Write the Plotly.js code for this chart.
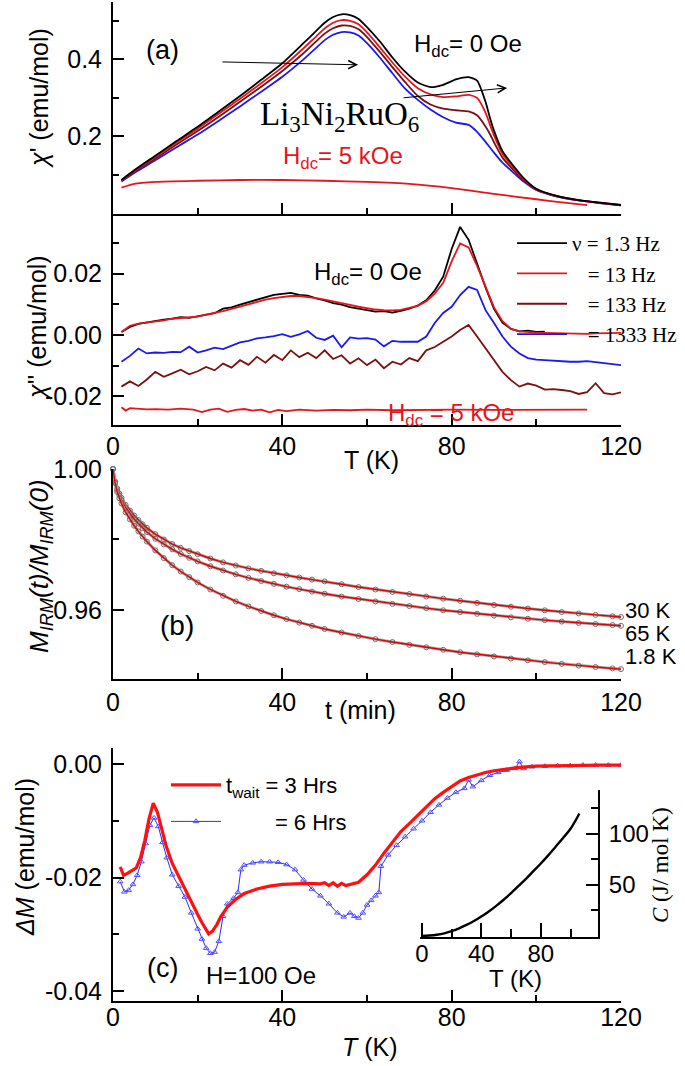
<!DOCTYPE html>
<html>
<head>
<meta charset="utf-8">
<script src="https://cdn.plot.ly/plotly-3.0.1.min.js"></script>
<style>
  body { margin: 0; background: #fff; }
  #chart { width: 685px; height: 1066px; }
</style>
</head>
<body>
<div id="chart"></div>
<script>
// (a) top: chi' vs T, H_dc = 0 Oe, four frequencies
const tChi1 = [2, 5, 10, 15, 20, 25, 30, 35, 40, 45, 48, 50, 52, 54, 56, 58, 60, 63, 66, 69, 72, 75, 78, 81, 84, 86, 88, 89, 90, 92, 95, 97, 100, 105, 110, 115, 120]
const chi1_13 = [0.087, 0.112, 0.150, 0.188, 0.225, 0.265, 0.305, 0.347, 0.390, 0.442, 0.474, 0.495, 0.510, 0.517, 0.515, 0.505, 0.484, 0.447, 0.405, 0.368, 0.340, 0.328, 0.334, 0.348, 0.354, 0.345, 0.290, 0.250, 0.215, 0.162, 0.118, 0.092, 0.064, 0.045, 0.035, 0.028, 0.022]
const chi1_13Hz = [0.086, 0.110, 0.147, 0.184, 0.220, 0.259, 0.298, 0.338, 0.380, 0.429, 0.460, 0.480, 0.495, 0.502, 0.500, 0.491, 0.470, 0.432, 0.392, 0.355, 0.325, 0.309, 0.302, 0.304, 0.308, 0.300, 0.262, 0.232, 0.203, 0.155, 0.113, 0.089, 0.063, 0.045, 0.035, 0.028, 0.022]
const chi1_133Hz = [0.085, 0.108, 0.143, 0.179, 0.214, 0.251, 0.290, 0.329, 0.370, 0.416, 0.447, 0.467, 0.481, 0.488, 0.487, 0.478, 0.458, 0.420, 0.380, 0.341, 0.305, 0.283, 0.272, 0.268, 0.265, 0.255, 0.226, 0.207, 0.185, 0.145, 0.108, 0.086, 0.062, 0.044, 0.034, 0.027, 0.021]
const chi1_1333Hz = [0.083, 0.105, 0.138, 0.172, 0.205, 0.241, 0.278, 0.316, 0.355, 0.400, 0.430, 0.450, 0.464, 0.471, 0.470, 0.462, 0.442, 0.405, 0.364, 0.324, 0.295, 0.270, 0.250, 0.236, 0.230, 0.212, 0.186, 0.172, 0.158, 0.132, 0.102, 0.083, 0.061, 0.044, 0.034, 0.027, 0.021]
// (a) top: H_dc = 5 kOe
const tField1 = [2, 5, 10, 20, 30, 40, 50, 60, 70, 80, 90, 100, 106, 112]
const chi1Field = [0.067, 0.077, 0.082, 0.085, 0.087, 0.087, 0.085, 0.082, 0.077, 0.066, 0.051, 0.037, 0.029, 0.022]

// (a) bottom: chi'' vs T
const tChi2Black = [2, 4, 6, 8, 10, 12, 14, 16, 18, 20, 22, 24, 26, 28, 30, 32, 34, 36, 38, 40, 42, 44, 46, 48, 50, 52, 54, 56, 58, 60, 62, 64, 66, 68, 70, 72, 74, 76, 78, 80, 82, 84, 86, 88, 90, 92, 94, 96, 98, 100, 102]
const chi2_1_3Hz = [0.0010, 0.0026, 0.0036, 0.0041, 0.0044, 0.0050, 0.0053, 0.0058, 0.0056, 0.0061, 0.0068, 0.0071, 0.0086, 0.0090, 0.0099, 0.0107, 0.0117, 0.0124, 0.0131, 0.0134, 0.0137, 0.0131, 0.0128, 0.0119, 0.0113, 0.0104, 0.0099, 0.0091, 0.0086, 0.0080, 0.0076, 0.0078, 0.0073, 0.0079, 0.0086, 0.0096, 0.0113, 0.0145, 0.0190, 0.0280, 0.0352, 0.0310, 0.0232, 0.0155, 0.0085, 0.0040, 0.0020, 0.0012, 0.0014, 0.0010, 0.0011]
const tChi2 = [2, 4, 6, 8, 10, 12, 14, 16, 18, 20, 22, 24, 26, 28, 30, 32, 34, 36, 38, 40, 42, 44, 46, 48, 50, 52, 54, 56, 58, 60, 62, 64, 66, 68, 70, 72, 74, 76, 78, 80, 82, 84, 86, 88, 90, 92, 94, 96, 98, 100, 102, 104, 106, 108, 110, 112, 114, 116, 118, 120]
const chi2_13Hz = [0.0010, 0.0030, 0.0037, 0.0040, 0.0045, 0.0048, 0.0053, 0.0055, 0.0058, 0.0060, 0.0066, 0.0071, 0.0078, 0.0085, 0.0093, 0.0101, 0.0108, 0.0115, 0.0120, 0.0124, 0.0127, 0.0127, 0.0124, 0.0120, 0.0115, 0.0110, 0.0104, 0.0098, 0.0092, 0.0087, 0.0083, 0.0081, 0.0080, 0.0082, 0.0088, 0.0095, 0.0110, 0.0135, 0.0170, 0.0240, 0.0298, 0.0285, 0.0225, 0.0155, 0.0090, 0.0045, 0.0020, 0.0012, 0.0009, 0.0008, 0.0007, 0.0006, 0.0006, 0.0005, 0.0005, 0.0004, 0.0005, 0.0005, 0.0006, 0.0007]
const chi2_133Hz = [-0.0168, -0.0151, -0.0166, -0.0145, -0.0120, -0.0136, -0.0125, -0.0113, -0.0128, -0.0118, -0.0104, -0.0115, -0.0093, -0.0106, -0.0082, -0.0097, -0.0071, -0.0090, -0.0065, -0.0082, -0.0050, -0.0072, -0.0058, -0.0075, -0.0050, -0.0078, -0.0066, -0.0093, -0.0076, -0.0098, -0.0080, -0.0108, -0.0087, -0.0096, -0.0075, -0.0085, -0.0050, -0.0039, -0.0022, -0.0005, 0.0016, 0.0033, -0.0005, -0.0043, -0.0082, -0.0120, -0.0147, -0.0168, -0.0158, -0.0165, -0.0178, -0.0176, -0.0179, -0.0183, -0.0192, -0.0186, -0.0157, -0.0189, -0.0193, -0.0187]
const chi2_1333Hz = [-0.0087, -0.0068, -0.0044, -0.0060, -0.0057, -0.0058, -0.0055, -0.0056, -0.0038, -0.0057, -0.0050, -0.0041, -0.0046, -0.0035, -0.0024, -0.0019, -0.0011, -0.0008, -0.0004, 0.0003, -0.0006, 0.0002, 0.0013, -0.0009, -0.0016, -0.0002, -0.0040, -0.0008, -0.0012, -0.0010, -0.0015, -0.0037, -0.0019, -0.0022, -0.0021, -0.0022, -0.0005, 0.0039, 0.0072, 0.0092, 0.0130, 0.0157, 0.0147, 0.0081, 0.0039, -0.0005, -0.0038, -0.0060, -0.0075, -0.0080, -0.0082, -0.0084, -0.0086, -0.0087, -0.0087, -0.0085, -0.0088, -0.0092, -0.0095, -0.0098]
const tField2 = [2, 3, 4, 6, 8, 10, 13, 16, 19, 21, 23, 25, 27, 29, 31, 33, 35, 37, 39, 41, 44, 48, 52, 56, 60, 66, 72, 80, 90, 100, 112]
const chi2Field = [-0.0235, -0.0246, -0.0238, -0.0240, -0.0242, -0.0241, -0.0243, -0.0240, -0.0243, -0.0251, -0.0243, -0.0240, -0.0250, -0.0244, -0.0241, -0.0246, -0.0243, -0.0252, -0.0244, -0.0248, -0.0243, -0.0246, -0.0244, -0.0245, -0.0243, -0.0245, -0.0244, -0.0243, -0.0244, -0.0244, -0.0243]

// (b) IRM relaxation
const tMin = [0, 0.5, 1, 1.5, 2, 3, 4, 5, 6, 7, 8, 10, 12, 14, 16, 18, 20, 23, 26, 29, 32, 35, 38, 41, 44, 47, 50, 54, 58, 62, 66, 70, 74, 78, 82, 86, 90, 94, 98, 102, 106, 110, 114, 118, 120]
const irm30K = [1.0000, 0.9965, 0.9945, 0.9930, 0.9918, 0.9898, 0.9882, 0.9868, 0.9855, 0.9843, 0.9833, 0.9815, 0.9800, 0.9787, 0.9776, 0.9767, 0.9758, 0.9746, 0.9735, 0.9726, 0.9718, 0.9711, 0.9704, 0.9698, 0.9692, 0.9686, 0.9681, 0.9673, 0.9665, 0.9658, 0.9651, 0.9645, 0.9638, 0.9632, 0.9626, 0.9620, 0.9614, 0.9609, 0.9604, 0.9599, 0.9594, 0.9590, 0.9586, 0.9582, 0.9580]
const irm65K = [1.0000, 0.9963, 0.9940, 0.9925, 0.9912, 0.9890, 0.9873, 0.9858, 0.9845, 0.9832, 0.9821, 0.9802, 0.9786, 0.9772, 0.9759, 0.9748, 0.9738, 0.9724, 0.9712, 0.9701, 0.9691, 0.9682, 0.9674, 0.9666, 0.9659, 0.9652, 0.9646, 0.9638, 0.9631, 0.9624, 0.9617, 0.9611, 0.9605, 0.9599, 0.9594, 0.9589, 0.9584, 0.9579, 0.9575, 0.9571, 0.9567, 0.9563, 0.9560, 0.9557, 0.9555]
const irm1_8K = [1.0000, 0.9960, 0.9935, 0.9917, 0.9902, 0.9877, 0.9857, 0.9839, 0.9823, 0.9808, 0.9794, 0.9769, 0.9747, 0.9727, 0.9709, 0.9693, 0.9678, 0.9658, 0.9640, 0.9624, 0.9610, 0.9597, 0.9585, 0.9574, 0.9564, 0.9555, 0.9546, 0.9536, 0.9526, 0.9517, 0.9509, 0.9501, 0.9494, 0.9487, 0.9480, 0.9474, 0.9468, 0.9462, 0.9457, 0.9452, 0.9447, 0.9442, 0.9438, 0.9434, 0.9432]

// (c) memory effect, Delta M vs T
const tWait3 = [1.7, 2.5, 3.5, 4.5, 5.5, 6.5, 7.5, 8.5, 9.5, 10.5, 11.5, 12.5, 14, 15.5, 17, 18.5, 20, 21, 22, 22.6, 23.5, 24.5, 25.5, 27, 29, 31, 34, 37, 40, 43, 46, 49, 50, 51, 52, 53, 54, 55, 56, 58, 60, 62, 64, 66, 68, 70, 72, 74, 76, 78, 80, 82, 84, 86, 88, 90, 93, 96, 100, 105, 110, 115, 120]
const dM3h = [-0.0181, -0.0196, -0.0192, -0.0187, -0.0183, -0.0165, -0.0135, -0.0097, -0.0069, -0.0085, -0.0115, -0.0143, -0.0175, -0.0198, -0.0222, -0.0245, -0.0265, -0.0279, -0.0290, -0.0299, -0.0294, -0.0283, -0.0268, -0.0252, -0.0238, -0.0228, -0.0220, -0.0215, -0.0212, -0.0211, -0.0210, -0.0211, -0.0209, -0.0214, -0.0209, -0.0215, -0.0210, -0.0214, -0.0212, -0.0208, -0.0195, -0.0178, -0.0157, -0.0138, -0.0119, -0.0105, -0.0090, -0.0075, -0.0061, -0.0050, -0.0040, -0.0030, -0.0024, -0.0019, -0.0015, -0.0012, -0.0009, -0.0006, -0.0004, -0.0003, -0.0002, -0.0002, -0.0002]
const tWait6 = [1.7, 2.7, 3.7, 4.7, 5.7, 6.7, 7.7, 8.7, 9.7, 10.7, 11.7, 12.7, 14, 15.5, 17, 18.5, 20, 21, 22, 23, 24, 25, 26, 27, 28.5, 29.5, 30.2, 31, 33, 35, 37, 39, 41, 43, 45, 47, 49, 51, 53, 54.5, 56, 57, 58, 59, 60, 61, 62, 62.8, 63.3, 65, 67, 69, 71, 73, 75, 77, 79, 81, 83, 84, 85, 87, 89, 91, 93, 95, 96, 97, 99, 102, 105, 108, 111, 114, 117, 120]
const dM6h = [-0.0207, -0.0225, -0.0222, -0.0212, -0.0196, -0.0172, -0.0140, -0.0108, -0.0095, -0.0110, -0.0138, -0.0165, -0.0195, -0.0215, -0.0234, -0.0262, -0.0290, -0.0308, -0.0324, -0.0333, -0.0331, -0.0312, -0.0268, -0.0246, -0.0236, -0.0226, -0.0186, -0.0178, -0.0174, -0.0172, -0.0172, -0.0173, -0.0177, -0.0186, -0.0204, -0.0220, -0.0232, -0.0246, -0.0262, -0.0269, -0.0262, -0.0268, -0.0271, -0.0262, -0.0248, -0.0240, -0.0232, -0.0226, -0.0180, -0.0160, -0.0143, -0.0128, -0.0114, -0.0100, -0.0085, -0.0072, -0.0060, -0.0050, -0.0043, -0.0028, -0.0040, -0.0029, -0.0020, -0.0015, -0.0011, -0.0008, 0.0004, -0.0008, -0.0005, -0.0004, -0.0003, -0.0003, -0.0002, -0.0002, -0.0002, -0.0002]

// (c) inset: heat capacity
const tHeat = [0, 5, 10, 15, 20, 25, 30, 35, 40, 45, 50, 55, 60, 65, 70, 75, 80, 85, 90, 95, 100, 106]
const heatC = [0, 0.4, 1.2, 2.6, 4.8, 7.5, 10.8, 14.6, 19, 24, 29.5, 35.5, 42, 49, 56, 63.5, 71, 79, 87.5, 96, 105, 120]

const W = 685, H = 1066
const px = x => x / W
const py = y => 1 - y / H
const XD = [px(113), px(621)]

const BLACK = '#000000', RED = '#e8141b', DARKRED = '#7a1010', BLUE = '#1a1af0'
const SANS = 'Liberation Sans', SERIF = 'Liberation Serif'

function ax(o) {
  var base = {
    showline: true, linecolor: '#000', linewidth: 2,
    ticks: 'inside', ticklen: 11, tickwidth: 2, tickcolor: '#000',
    showgrid: false, zeroline: false, fixedrange: true,
    tickfont: {family: SANS, size: 25, color: '#000'}
  }
  return Object.assign(base, o)
}
function minor(t0, dt, len) {
  return {tickmode: 'linear', tick0: t0, dtick: dt, ticks: 'inside', ticklen: len || 6, tickwidth: 2, tickcolor: '#000'}
}
const xTicks = {tickvals: [0, 40, 80, 120], ticktext: ['0', '40', '80', '120'], range: [0, 120], domain: XD, minor: minor(20, 40)}

function line(x, y, color, xa, ya, extra) {
  return Object.assign({x: x, y: y, type: 'scatter', mode: 'lines', xaxis: xa, yaxis: ya,
    line: {color: color, width: 1.8}, showlegend: false, hoverinfo: 'skip'}, extra || {})
}

var data = [
  // (a) chi'
  line(tChi1, chi1_1333Hz, BLUE, 'x', 'y', {line: {color: BLUE, width: 1.8, shape: 'spline', smoothing: 0.6}}),
  line(tChi1, chi1_133Hz, DARKRED, 'x', 'y', {line: {color: DARKRED, width: 1.8, shape: 'spline', smoothing: 0.6}}),
  line(tChi1, chi1_13Hz, RED, 'x', 'y', {line: {color: RED, width: 1.8, shape: 'spline', smoothing: 0.6}}),
  line(tChi1, chi1_13, BLACK, 'x', 'y', {line: {color: BLACK, width: 1.8, shape: 'spline', smoothing: 0.6}}),
  line(tField1, chi1Field, RED, 'x', 'y', {line: {color: RED, width: 1.8, shape: 'spline', smoothing: 0.6}}),
  // (a) chi''
  line(tChi2Black, chi2_1_3Hz, BLACK, 'x2', 'y2', {name: '\u03bd = 1.3 Hz', showlegend: true, legendrank: 1}),
  line(tChi2, chi2_13Hz, RED, 'x2', 'y2', {name: '\u00a0\u00a0\u00a0= 13 Hz', showlegend: true, legendrank: 2}),
  line(tChi2, chi2_133Hz, DARKRED, 'x2', 'y2', {name: '\u00a0\u00a0\u00a0= 133 Hz', showlegend: true, legendrank: 3}),
  line(tChi2, chi2_1333Hz, BLUE, 'x2', 'y2', {name: '\u00a0\u00a0\u00a0= 1333 Hz', showlegend: true, legendrank: 4}),
  line(tField2, chi2Field, RED, 'x2', 'y2'),
]

// (b) data points (grey circles) with red fits
var irmSets = [irm30K, irm65K, irm1_8K]
irmSets.forEach(function (m) {
  data.push(line(tMin, m, '#9a9a9a', 'x3', 'y3', {mode: 'lines+markers', cliponaxis: false,
    line: {color: '#a8a8a8', width: 3},
    marker: {symbol: 'circle-open', size: 5, color: '#707070', line: {width: 1}}}))
  data.push(line(tMin, m, '#e00000', 'x3', 'y3', {cliponaxis: false, line: {color: '#e00000', width: 1.4}}))
})

// (c)
data.push(line(tWait6, dM6h, '#2b2bff', 'x4', 'y4', {mode: 'lines+markers', name: '\u00a0\u00a0\u00a0\u00a0\u00a0\u00a0\u00a0\u00a0= 6 Hrs',
  showlegend: true, legend: 'legend2', legendgroup: 'g6', legendrank: 2,
  line: {color: '#2b2bff', width: 1},
  marker: {symbol: 'triangle-up-open', size: 5, color: '#5050ff', line: {width: 1}}}))
data.push(line(tWait3, dM3h, '#ff1010', 'x4', 'y4', {name: 't<sub>wait</sub> = 3 Hrs',
  showlegend: true, legend: 'legend2', legendgroup: 'g3', legendrank: 1,
  line: {color: '#ff1010', width: 3.2}}))
// inset
data.push(line(tHeat, heatC, BLACK, 'x5', 'y5', {line: {color: BLACK, width: 2.4, shape: 'spline'}}))

function note(text, x, y, o) {
  return Object.assign({text: text, x: px(x), y: py(y), xref: 'paper', yref: 'paper', showarrow: false,
    xanchor: 'center', yanchor: 'middle', font: {family: SANS, size: 24, color: '#000'}}, o || {})
}
function arrow(x0, y0, x1, y1) {
  return {x: x1, y: y1, ax: x0, ay: y0, xref: 'x', yref: 'y', axref: 'x', ayref: 'y', text: '',
    showarrow: true, arrowhead: 5, arrowsize: 1.6, arrowwidth: 1, arrowcolor: '#000'}
}

var annotations = [
  note('(a)', 162, 50, {font: {family: SANS, size: 27, color: '#000'}}),
  note('H<sub>dc</sub>= 0 Oe', 468, 46),
  note('Li<sub>3</sub>Ni<sub>2</sub>RuO<sub>6</sub>', 339, 117, {font: {family: SERIF, size: 33, color: '#000'}}),
  note('H<sub>dc</sub>= 5 kOe', 343, 157, {font: {family: SANS, size: 24, color: RED}}),
  arrow(25.5, 0.3935, 57.9, 0.386),
  arrow(68.3, 0.300, 93.1, 0.326),
  note('H<sub>dc</sub>= 0 Oe', 368, 274),
  note('H<sub>dc</sub> = 5 kOe', 451, 414, {font: {family: SANS, size: 24, color: RED}}),
  note('T (K)', 371, 460, {font: {family: SANS, size: 25, color: '#000'}}),
  note('(b)', 177, 625, {font: {family: SANS, size: 28, color: '#000'}}),
  note('30 K', 623, 610, {xanchor: 'left', font: {family: SANS, size: 22, color: '#000'}}),
  note('65 K', 623, 633, {xanchor: 'left', font: {family: SANS, size: 22, color: '#000'}}),
  note('1.8 K', 623, 656, {xanchor: 'left', font: {family: SANS, size: 22, color: '#000'}}),
  note('t (min)', 360, 710, {font: {family: SANS, size: 25, color: '#000'}}),
  note('(c)', 162, 968, {font: {family: SANS, size: 27, color: '#000'}}),
  note('H=100 Oe', 261, 975),
  note('<i>T</i> (K)', 370, 1047, {font: {family: SANS, size: 25, color: '#000'}}),
  note('T (K)', 515, 978),
  note('<i>C</i> (J/ mol K)', 660, 865, {textangle: -90, font: {family: SERIF, size: 23, color: '#000'}}),
  note('<i>\u03c7</i>\' (emu/mol)', 39, 98, {textangle: -90, font: {family: SANS, size: 25, color: '#000'}}),
  note('<i>\u03c7</i>\'\' (emu/mol)', 37, 328, {textangle: -90, font: {family: SANS, size: 25, color: '#000'}}),
  note('<i>M<sub>IRM</sub>(t)/M<sub>IRM</sub>(0)</i>', 40, 566, {textangle: -90, font: {family: SANS, size: 26, color: '#000'}}),
  note('<i>\u0394M</i> (emu/mol)', 25, 857, {textangle: -90, font: {family: SANS, size: 25, color: '#000'}})
]

var layout = {
  width: W, height: H,
  margin: {l: 0, r: 0, t: 0, b: 0},
  paper_bgcolor: '#fff', plot_bgcolor: 'rgba(0,0,0,0)',
  font: {family: SANS, color: '#000'},
  showlegend: true,
  legend: {x: px(512), y: py(223), xanchor: 'left', yanchor: 'top', bgcolor: 'rgba(0,0,0,0)',
    font: {family: SERIF, size: 21, color: '#000'}, itemwidth: 50, tracegroupgap: 0},
  legend2: {x: px(166), y: py(764), xanchor: 'left', yanchor: 'top', bgcolor: 'rgba(0,0,0,0)',
    font: {family: SANS, size: 22, color: '#000'}, itemwidth: 50, traceorder: 'grouped', tracegroupgap: 5},
  xaxis: ax(Object.assign({}, xTicks, {anchor: 'y', showticklabels: false})),
  yaxis: ax({domain: [py(214), py(2)], range: [-0.0013, 0.549], anchor: 'x',
    tickvals: [0.2, 0.4], ticktext: ['0.2', '0.4'], ticklabelstandoff: 4, minor: minor(0.1, 0.2)}),
  xaxis2: ax(Object.assign({}, xTicks, {anchor: 'y2', ticklabelstandoff: -2})),
  yaxis2: ax({domain: [py(425), py(214)], range: [-0.0293, 0.0394], anchor: 'x2',
    tickvals: [-0.02, 0, 0.02], ticktext: ['-0.02', '0.00', '0.02'], ticklabelstandoff: 4, minor: minor(0.01, 0.02)}),
  xaxis3: ax(Object.assign({}, xTicks, {anchor: 'y3', ticklabelstandoff: 0})),
  yaxis3: ax({domain: [py(679), py(469)], range: [0.9404, 1.0], anchor: 'x3',
    tickvals: [0.96, 1.0], ticktext: ['0.96', '1.00'], ticklabelstandoff: 4, minor: minor(0.98, 0.04)}),
  xaxis4: ax(Object.assign({}, xTicks, {anchor: 'y4', ticklabelstandoff: -7})),
  yaxis4: ax({domain: [py(1001), py(748)], range: [-0.0417, 0.0028], anchor: 'x4',
    tickvals: [-0.04, -0.02, 0], ticktext: ['-0.04', '-0.02', '0.00'], ticklabelstandoff: 4, minor: minor(-0.01, 0.02)}),
  xaxis5: ax({domain: [px(420), px(598)], range: [-1.3, 118.5], anchor: 'y5',
    tickvals: [0, 40, 80], ticktext: ['0', '40', '80'], ticklen: 14, ticklabelstandoff: -6,
    tickfont: {family: SANS, size: 24, color: '#000'}, minor: minor(20, 40, 8)}),
  yaxis5: ax({domain: [py(937), py(790)], range: [-1, 143], anchor: 'x5', side: 'right',
    tickvals: [50, 100], ticktext: ['50', '100'], ticklen: 12, ticklabelstandoff: 4,
    tickfont: {family: SANS, size: 24, color: '#000'}, minor: minor(25, 50, 7)}),
  annotations: annotations
}

Plotly.newPlot('chart', data, layout, {staticPlot: true})
</script>
</body>
</html>
